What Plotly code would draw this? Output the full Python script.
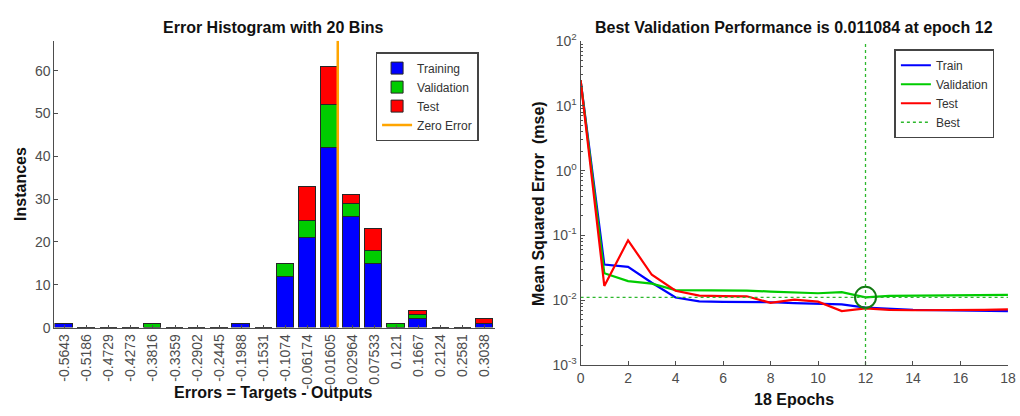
import plotly.graph_objects as go

# ---------------- data ----------------
bin_labels = ["-0.5643", "-0.5186", "-0.4729", "-0.4273", "-0.3816", "-0.3359", "-0.2902",
              "-0.2445", "-0.1988", "-0.1531", "-0.1074", "-0.06174", "-0.01605", "0.02964",
              "0.07533", "0.121", "0.1667", "0.2124", "0.2581", "0.3038"]
train_counts = [1, 0, 0, 0, 0, 0, 0, 0, 1, 0, 12, 21, 42, 26, 15, 0, 2, 0, 0, 1]
val_counts   = [0, 0, 0, 0, 1, 0, 0, 0, 0, 0, 3, 4, 10, 3, 3, 1, 1, 0, 0, 0]
test_counts  = [0, 0, 0, 0, 0, 0, 0, 0, 0, 0, 0, 8, 9, 2, 5, 0, 1, 0, 0, 1]

epochs = list(range(19))
train_mse = [25, 0.0355, 0.0328, 0.0186, 0.0110, 0.0096, 0.0094, 0.0094, 0.0093, 0.0090,
             0.0088, 0.0086, 0.0077, 0.0073, 0.0071, 0.0070, 0.0069, 0.0069, 0.0068]
val_mse   = [25, 0.0261, 0.0197, 0.0180, 0.0143, 0.0143, 0.0143, 0.0141, 0.0136, 0.0133,
             0.0128, 0.0133, 0.011084, 0.0117, 0.0118, 0.0118, 0.0119, 0.0121, 0.0121]
test_mse  = [25, 0.0166, 0.084, 0.0247, 0.0140, 0.0118, 0.0116, 0.0115, 0.0091, 0.0102,
             0.0095, 0.0068, 0.0075, 0.0071, 0.0070, 0.0070, 0.0071, 0.0071, 0.0072]
best_epoch = 12
best_val = 0.011084

log_tickvals = [1e-3, 1e-2, 1e-1, 1e0, 1e1, 1e2]
log_ticktext = ["10<sup>-3</sup>", "10<sup>-2</sup>", "10<sup>-1</sup>",
                "10<sup>0</sup>", "10<sup>1</sup>", "10<sup>2</sup>"]

# ---------------- figure ----------------
centers = [float(s) for s in bin_labels]
w = (centers[-1] - centers[0]) / (len(centers) - 1)
FONT = "Liberation Sans, Arial, Helvetica, sans-serif"
GRAY = "#4d4d4d"

fig = go.Figure()
outline = dict(color="#262626", width=1)
for name, vals, col in [("Training", train_counts, "#0000ff"),
                        ("Validation", val_counts, "#00cc00"),
                        ("Test", test_counts, "#ff0000")]:
    fig.add_trace(go.Bar(x=centers, y=vals, name=name, marker=dict(color=col, line=outline),
                         width=0.78 * w, xaxis="x", yaxis="y", legend="legend"))
fig.add_trace(go.Scatter(x=[0, 0], y=[0, 67], mode="lines", name="Zero Error",
                         line=dict(color="#ffa500", width=2.5), xaxis="x", yaxis="y",
                         legend="legend"))

for name, vals, col in [("Train", train_mse, "#0000ff"),
                        ("Validation", val_mse, "#00cc00"),
                        ("Test", test_mse, "#ff0000")]:
    fig.add_trace(go.Scatter(x=epochs, y=vals, mode="lines", name=name,
                             line=dict(color=col, width=2.2), xaxis="x2", yaxis="y2",
                             legend="legend2"))
fig.add_trace(go.Scatter(x=[0, epochs[-1], None, best_epoch, best_epoch],
                         y=[best_val, best_val, None, 1e-3, 1e2], mode="lines", name="Best",
                         line=dict(color="#2db82d", width=1.3, dash="dot"),
                         xaxis="x2", yaxis="y2", legend="legend2"))
fig.add_trace(go.Scatter(x=[best_epoch], y=[best_val], mode="markers", showlegend=False,
                         marker=dict(symbol="circle-open", size=21,
                                     line=dict(color="#137a13", width=2), color="#137a13"),
                         xaxis="x2", yaxis="y2"))

axis_common = dict(showline=True, linecolor=GRAY, linewidth=1, ticks="inside",
                   tickcolor=GRAY, tickfont=dict(color=GRAY, size=14, family=FONT),
                   showgrid=False, zeroline=False, mirror=False, ticklabeloverflow="allow")

legend_common = dict(xanchor="left", yanchor="top", bgcolor="white", bordercolor="#444",
                     borderwidth=1.5, font=dict(size=12, color="#333", family=FONT),
                     tracegroupgap=0, traceorder="normal", itemwidth=30)

def ann(text, x, y, angle=0, size=16):
    return dict(text=text, x=x / 1020, y=1 - y / 416, xref="paper", yref="paper",
                xanchor="center", yanchor="middle", showarrow=False, textangle=angle,
                font=dict(size=size, color="#111"))

fig.update_layout(
    width=1020, height=416, margin=dict(l=0, r=0, t=0, b=0),
    paper_bgcolor="white", plot_bgcolor="white",
    font=dict(family=FONT, color="#000"),
    barmode="stack", bargap=0,
    xaxis=dict(domain=[0.05, 0.487], anchor="y",
               range=[centers[0] - 0.45 * w, centers[-1] + 0.45 * w],
               tickvals=centers, ticktext=bin_labels, tickangle=-90, ticklen=3,
               **axis_common),
    yaxis=dict(domain=[0.202, 0.923], anchor="x", range=[0, 67], dtick=10, ticklen=4,
               **axis_common),
    xaxis2=dict(domain=[0.572, 0.996], anchor="y2", range=[0, 18], dtick=2, ticklen=4,
                **axis_common),
    yaxis2=dict(domain=[0.108, 0.922], anchor="x2", type="log", range=[-3, 2],
                tickvals=log_tickvals, ticktext=log_ticktext, ticklen=4,
                minor=dict(ticks="inside", ticklen=2, tickcolor=GRAY, dtick="D1"),
                **axis_common),
    legend=dict(x=376 / 1020, y=1 - 44 / 416, **legend_common),
    legend2=dict(x=901 / 1020, y=1 - 41 / 416, **legend_common),
    annotations=[
        ann("<b>Error Histogram with 20 Bins</b>", 273, 18),
        ann("<b>Best Validation Performance is 0.011084 at epoch 12</b>", 799, 18),
        ann("<b>Instances</b>", 16, 182, angle=-90),
        ann("<b>Errors = Targets - Outputs</b>", 273, 400),
        ann("<b>Mean Squared Error  (mse)</b>", 541, 202, angle=-90),
        ann("<b>18 Epochs</b>", 799, 407),
    ],
)

fig.write_html("out.html")
